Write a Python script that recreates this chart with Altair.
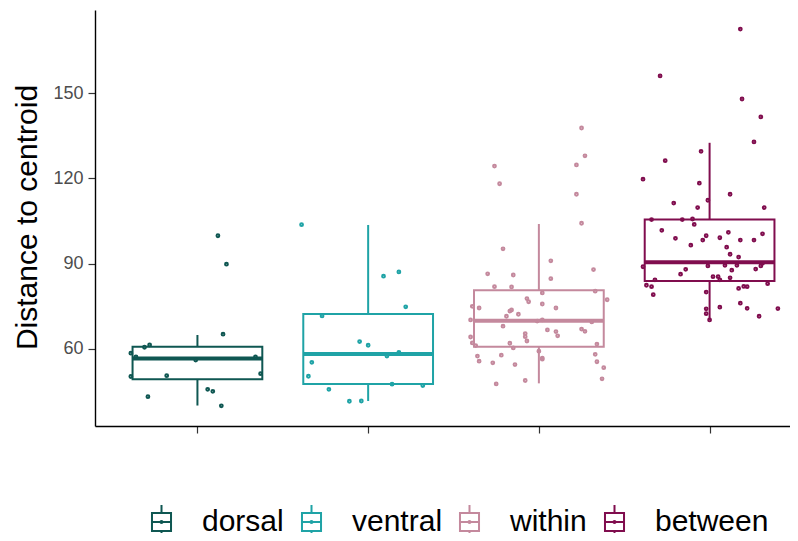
import altair as alt
import pandas as pd

groups = ["dorsal", "ventral", "within", "between"]
colors = ["#0f5752", "#1fa3a6", "#c4899d", "#800d4e"]

# distances to centroid, with their horizontal jitter (category units)
dorsal_vals = [99.8, 89.8, 65.2, 61.4, 60.6, 58.5, 57.2, 56.1, 57.2, 50.3, 50.6, 51.3, 43.2, 45.8, 45.1, 40.0]
dorsal_jit = [0.12, 0.17, 0.15, -0.28, -0.31, -0.39, -0.36, -0.01, 0.34, -0.39, -0.18, 0.37, -0.29, 0.06, 0.09, 0.14]

ventral_vals = [103.7, 85.6, 87.1, 74.8, 71.6, 62.6, 61.3, 57.5, 58.8, 55.3, 50.4, 47.6, 47.1, 45.8, 41.6, 41.7]
ventral_jit = [-0.39, 0.09, 0.18, 0.22, -0.27, -0.05, 0.00, 0.11, 0.18, -0.33, -0.35, 0.14, 0.32, -0.23, -0.11, -0.04]

within_vals = [137.7, 127.9, 124.7, 124.3, 118.1, 114.4, 104.2, 95.2, 91.0, 87.9,
               86.4, 86.0, 84.7, 81.9, 81.8, 80.3, 79.7, 77.7, 76.6, 77.3,
               75.8, 75.0, 74.4, 74.4, 73.7, 73.3, 72.2, 71.5, 70.2, 69.8,
               70.2, 69.5, 68.0, 66.7, 66.1, 67.0, 66.2, 64.6, 65.4, 64.3,
               62.8, 64.2, 62.1, 61.2, 62.0, 60.35, 61.7, 59.2, 56.4, 56.8,
               57.5, 57.8, 58.1, 55.7, 55.1, 54.5, 55.5, 53.4, 49.5, 47.7, 48.9]
within_jit = [0.25, 0.27, 0.22, -0.26, -0.23, 0.22, 0.25, -0.21, 0.07, 0.32,
              -0.30, -0.15, 0.07, -0.26, -0.16, 0.33, 0.02, -0.07, -0.06, 0.40,
              0.02, -0.39, -0.35, 0.10, -0.16, -0.17, -0.12, -0.19, -0.40, -0.01,
              0.02, 0.31, -0.21, 0.05, 0.10, 0.25, 0.27, 0.11, -0.08, -0.08,
              -0.07, -0.40, -0.39, -0.37, -0.17, -0.15, 0.34, 0.00, 0.02, 0.02,
              -0.36, -0.22, 0.33, -0.35, -0.27, -0.14, 0.34, 0.38, 0.37, -0.25, -0.08]

between_vals = [172.5, 156.0, 147.9, 141.6, 132.8, 129.5, 126.2, 119.7, 118.3, 114.4,
                112.3, 111.3, 109.7, 109.7, 105.5, 105.5, 105.7, 103.8, 101.7, 101.0,
                98.9, 98.3, 99.8, 99.1, 98.3, 98.3, 100.5, 96.5, 95.8, 93.3,
                92.3, 88.9, 89.2, 89.4, 89.4, 88.1, 89.2, 90.1, 88.0, 87.7,
                86.3, 85.4, 85.4, 84.3, 85.0, 84.3, 82.4, 81.9, 79.1, 81.3,
                82.0, 81.9, 82.95, 80.0, 76.1, 74.3, 74.7, 71.5, 74.2, 74.1, 72.4, 70.2]
between_jit = [0.18, -0.29, 0.19, 0.30, 0.26, -0.05, -0.26, -0.39, -0.06, 0.12,
               -0.01, -0.21, -0.07, 0.32, -0.34, -0.16, -0.10, -0.09, -0.28, 0.11,
               -0.20, -0.04, -0.02, 0.06, 0.18, 0.26, 0.31, -0.11, 0.10, 0.12,
               0.17, -0.39, -0.01, 0.09, 0.16, 0.27, 0.30, 0.31, -0.14, 0.13,
               -0.17, 0.02, 0.05, 0.06, 0.12, -0.32, -0.37, -0.34, -0.33, 0.17,
               0.20, 0.22, 0.34, -0.02, 0.18, 0.22, 0.06, 0.29, 0.40, -0.02, -0.02, 0.00]

# box statistics
q1 = [49.3, 47.7, 60.8, 83.9]
median = [56.6, 58.2, 69.95, 90.5]
q3 = [60.8, 72.3, 80.6, 105.5]
whisker_lo = [40.1, 41.7, 47.9, 70.2]
whisker_hi = [64.9, 103.6, 103.95, 132.5]

y_ticks = [60, 90, 120, 150]

all_vals = [dorsal_vals, ventral_vals, within_vals, between_vals]
all_jit = [dorsal_jit, ventral_jit, within_jit, between_jit]

rows = []
for i, g in enumerate(groups):
    for v, j in zip(all_vals[i], all_jit[i]):
        rows.append({"group": g, "x": i + 1 + j, "value": v})
points = pd.DataFrame(rows)

half = 0.38
boxes = pd.DataFrame({
    "group": groups,
    "pos": [1, 2, 3, 4],
    "left": [p - half for p in [1, 2, 3, 4]],
    "right": [p + half for p in [1, 2, 3, 4]],
    "q1": q1, "median": median, "q3": q3,
})
wrows = []
for i, g in enumerate(groups):
    wrows.append({"group": g, "pos": i + 1, "a": whisker_lo[i], "b": q1[i]})
    wrows.append({"group": g, "pos": i + 1, "a": q3[i], "b": whisker_hi[i]})
whiskers = pd.DataFrame(wrows)

FONT = "Liberation Sans"
x_scale = alt.Scale(domain=[0.4, 4.471], nice=False, zero=False)
y_scale = alt.Scale(domain=[32.9, 179.2], nice=False, zero=False)
x_axis = alt.Axis(values=[1, 2, 3, 4], labels=False, title=None, grid=False,
                  tickSize=7, domainColor="black", domainWidth=1.4,
                  tickColor="#333333", tickWidth=1.2)
y_axis = alt.Axis(values=y_ticks, title="Distance to centroid", grid=False,
                  tickSize=7, labelPadding=5, labelFontSize=18, labelColor="#4d4d4d",
                  labelFont=FONT, domainColor="black", domainWidth=1.4,
                  tickColor="#333333", tickWidth=1.2,
                  titleFont=FONT, titleFontSize=30, titleFontWeight="normal",
                  titleColor="black", titleAngle=270, titleBaseline="alphabetic",
                  titleAlign="center", titleX=-59, titleY=207)
color_scale = alt.Scale(domain=groups, range=colors)

legend_path = ("M-0.56,-0.53H0.56V0.53H-0.56Z M-0.56,0H0.56 M0,-1V-0.53 M0,0.53V1 "
               "M0.06,0A0.06,0.06,0,1,1,-0.06,0A0.06,0.06,0,1,1,0.06,0")
legend = alt.Legend(
    title=None, orient="none", legendX=48.5, legendY=494, direction="horizontal",
    labelFont=FONT, labelFontSize=30, labelColor="black",
    symbolType=legend_path, symbolSize=1156, symbolStrokeWidth=2,
    symbolFillColor="transparent",
    labelOffset=22.5, columnPadding=9,
)
color_enc = alt.Color("group:N", scale=color_scale, legend=legend)

box_layer = alt.Chart(boxes).mark_rect(filled=False, strokeWidth=2).encode(
    x=alt.X("left:Q", scale=x_scale, axis=x_axis),
    x2="right:Q",
    y=alt.Y("q1:Q", scale=y_scale, axis=y_axis),
    y2="q3:Q",
    color=color_enc,
)

whisk_layer = alt.Chart(whiskers).mark_rule(strokeWidth=2).encode(
    x=alt.X("pos:Q", scale=x_scale, axis=x_axis),
    y=alt.Y("a:Q", scale=y_scale, axis=y_axis),
    y2="b:Q",
    color=color_enc,
)

median_layer = alt.Chart(boxes).mark_rule(strokeWidth=4).encode(
    x=alt.X("left:Q", scale=x_scale, axis=x_axis),
    x2="right:Q",
    y=alt.Y("median:Q", scale=y_scale, axis=y_axis),
    color=color_enc,
)

# solid dots drawn as small thick-stroked circles so the shared legend stays unfilled
point_layer = alt.Chart(points).mark_point(
    shape="circle", filled=False, size=4, strokeWidth=2.8, opacity=1
).encode(
    x=alt.X("x:Q", scale=x_scale, axis=x_axis),
    y=alt.Y("value:Q", scale=y_scale, axis=y_axis),
    color=color_enc,
)

chart = alt.layer(box_layer, whisk_layer, median_layer, point_layer).properties(
    width=695, height=416,
    padding={"left": 87, "top": 2, "right": 0, "bottom": 107},
    autosize=alt.AutoSizeParams(type="none"),
).configure_view(stroke=None)

chart.save("out.html", embed_options={"renderer": "svg", "actions": False})
